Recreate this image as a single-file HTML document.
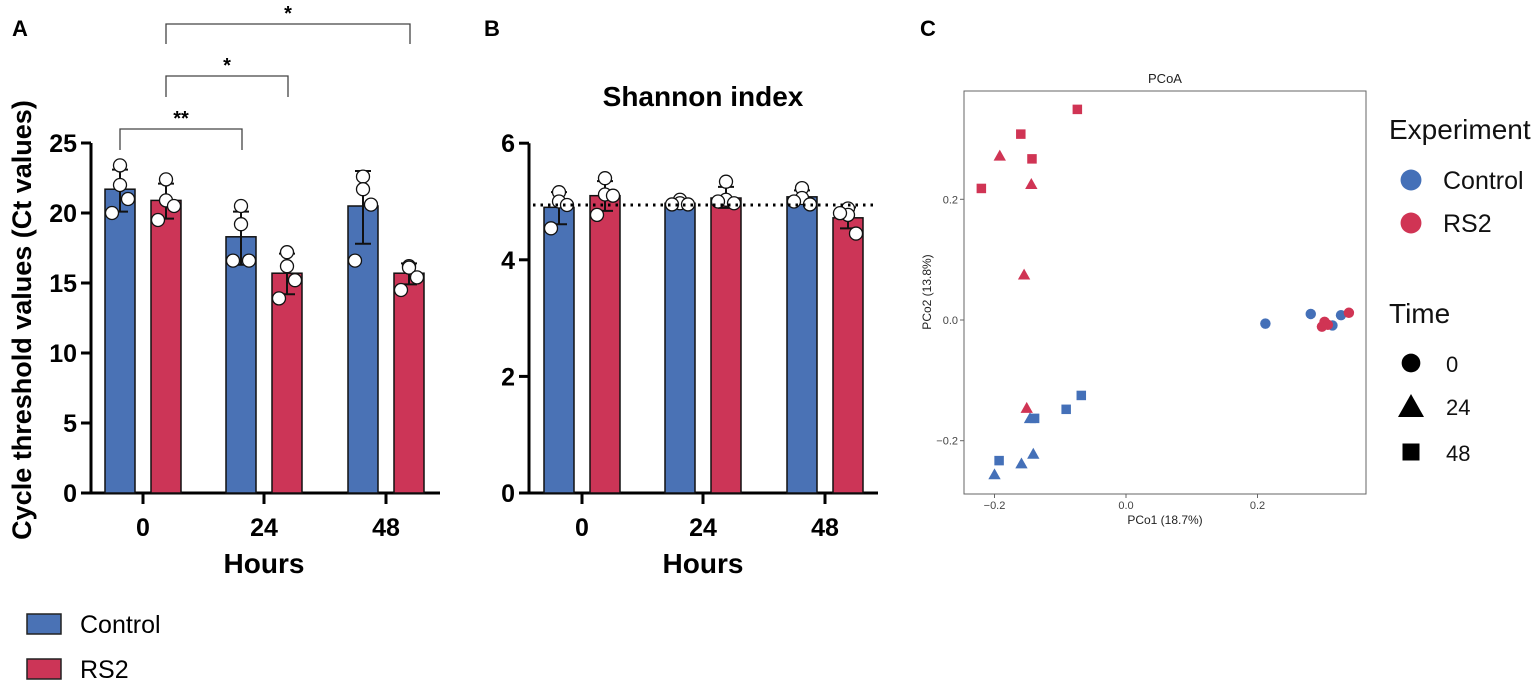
<!DOCTYPE html>
<html><head><meta charset="utf-8"><style>
body{margin:0;background:#fff;}
svg{display:block;font-family:"Liberation Sans",Arial,sans-serif;}
</style></head><body>
<svg id="s" width="1535" height="688" viewBox="0 0 1535 688" xmlns="http://www.w3.org/2000/svg">
<text x="12" y="36" font-size="22" font-weight="bold">A</text>
<text x="484" y="36" font-size="22" font-weight="bold">B</text>
<text x="920" y="36" font-size="22" font-weight="bold">C</text>
<g id="ga"></g><g id="gb"></g><g id="gc"></g>
<g>
<rect x="27" y="614" width="34" height="20" fill="#4a72b5" stroke="#222" stroke-width="1.5"/>
<text x="80" y="633" font-size="25">Control</text>
<rect x="27" y="659" width="34" height="20" fill="#cc3557" stroke="#222" stroke-width="1.5"/>
<text x="80" y="678" font-size="25">RS2</text>
</g>
</svg>
<script>
var NS="http://www.w3.org/2000/svg";
function mk(p,t,a,txt){var e=document.createElementNS(NS,t);for(var k in a)e.setAttribute(k,a[k]);if(txt!==undefined)e.textContent=txt;p.appendChild(e);return e;}
var BLUE="#4a72b5",RED="#cc3557";
var hours=["0","24","48"];
// Panel A data
var aCtrl=[21.7,18.3,20.5];
var aRs2=[20.9,15.7,15.7];
var aCtrlErr=[[20.1,23.1],[16.3,20.1],[17.8,23.0]];
var aRs2Err=[[19.6,22.1],[14.2,17.1],[14.9,16.4]];
var aCtrlPts=[[23.4,22.0,21.0,20.0],[20.5,19.2,16.6,16.6],[22.6,21.7,20.6,16.6]];
var aRs2Pts=[[22.4,20.9,20.5,19.5],[17.2,16.2,15.2,13.9],[16.2,16.1,15.4,14.5]];
var aTicks=[0,5,10,15,20,25];
// Panel B data
var bCtrl=[4.90,4.97,5.08];
var bRs2=[5.10,5.06,4.72];
var bCtrlErr=[[4.61,5.16],[4.94,5.05],[4.97,5.19]];
var bRs2Err=[[4.84,5.35],[4.89,5.25],[4.54,4.90]];
var bCtrlPts=[[5.16,5.0,4.94,4.54],[5.03,4.97,4.95,4.95],[5.23,5.06,4.95,5.0]];
var bRs2Pts=[[5.4,5.12,5.1,4.77],[5.34,5.03,4.97,5.0],[4.88,4.77,4.45,4.8]];
var bTicks=[0,2,4,6];
var bRef=4.94;
// Panel C data
var cCtrlX0=[0.212,0.281,0.314,0.327], cCtrlY0=[-0.006,0.010,-0.009,0.008];
var cRs2X0=[0.339,0.302,0.298,0.307], cRs2Y0=[0.012,-0.003,-0.011,-0.008];
var cCtrlX24=[-0.146,-0.141,-0.159,-0.200], cCtrlY24=[-0.163,-0.222,-0.238,-0.256];
var cRs2X24=[-0.192,-0.144,-0.155,-0.151], cRs2Y24=[0.272,0.225,0.075,-0.146];
var cCtrlX48=[-0.068,-0.091,-0.139,-0.193], cCtrlY48=[-0.125,-0.148,-0.163,-0.233];
var cRs2X48=[-0.074,-0.160,-0.143,-0.220], cRs2Y48=[0.349,0.308,0.267,0.218];
var cXTicks=[-0.2,0.0,0.2], cYTicks=[-0.2,0.0,0.2];

function barPanel(g,o){
  var y=function(v){return o.y0-(v-0)*o.ppu;};
  var jit=[0,0,8,-8];
  var ax=mk(g,'line',{x1:o.ax,y1:o.y0,x2:o.ax,y2:y(o.ticks[o.ticks.length-1]),stroke:'#000','stroke-width':3});
  
  var xa=mk(g,'line',{x1:o.ax-2,y1:o.y0,x2:o.xend,y2:o.y0,stroke:'#000','stroke-width':3});
  
  o.ticks.forEach(function(t){
    var l=mk(g,'line',{x1:o.ax-10,y1:y(t),x2:o.ax,y2:y(t),stroke:'#000','stroke-width':3});
    
    var tx=mk(g,'text',{x:o.ax-14,y:y(t)+9,'font-size':25,'font-weight':'bold','text-anchor':'end'},String(t));
    
  });
  hours.forEach(function(h,i){
    var cx=o.tx[i];
    var l=mk(g,'line',{x1:cx,y1:o.y0,x2:cx,y2:o.y0+11,stroke:'#000','stroke-width':3});
    
    var tx=mk(g,'text',{x:cx,y:o.y0+43,'font-size':25,'font-weight':'bold','text-anchor':'middle'},h);
    
    [[o.ctrl,o.ctrlErr,o.ctrlPts,BLUE,-23,'control'],[o.rs2,o.rs2Err,o.rs2Pts,RED,23,'rs2']].forEach(function(s){
      var bx=cx+s[4];
      var r=mk(g,'rect',{x:bx-15,y:y(s[0][i]),width:30,height:o.y0-y(s[0][i]),fill:s[3],stroke:'#111','stroke-width':1.5});
      
      var e=s[1][i];
      var eg=mk(g,'path',{d:'M'+bx+' '+y(e[0])+'V'+y(e[1])+'M'+(bx-8)+' '+y(e[0])+'H'+(bx+8)+'M'+(bx-8)+' '+y(e[1])+'H'+(bx+8),stroke:'#111','stroke-width':2,fill:'none'});
      
      s[2][i].forEach(function(v,k){
        var c=mk(g,'circle',{cx:bx+jit[k],cy:y(v),r:6.5,fill:'#fff',stroke:'#111','stroke-width':1.3});
        
      });
    });
  });
  var ht=mk(g,'text',{x:o.tx[1],y:o.y0+80,'font-size':28,'font-weight':'bold','text-anchor':'middle'},'Hours');
  
  return y;
}
var ga=document.getElementById('ga');
var ya=barPanel(ga,{ax:91,y0:493,ppu:14,xend:440,tx:[143,264,386],ticks:aTicks,ctrl:aCtrl,rs2:aRs2,ctrlErr:aCtrlErr,rs2Err:aRs2Err,ctrlPts:aCtrlPts,rs2Pts:aRs2Pts});
var yt=mk(ga,'text',{x:0,y:0,'font-size':27,'font-weight':'bold','text-anchor':'middle',transform:'translate(31,320) rotate(-90)'},'Cycle threshold values (Ct values)');

[[120,242,129,150,'**'],[166,288,76,97,'*'],[166,410,24,44,'*']].forEach(function(b){
  var p=mk(ga,'path',{d:'M'+b[0]+' '+b[3]+'V'+b[2]+'H'+b[1]+'V'+b[3],stroke:'#444','stroke-width':1.3,fill:'none'});
  
  var t=mk(ga,'text',{x:(b[0]+b[1])/2,y:b[2]-4,'font-size':20,'font-weight':'bold','text-anchor':'middle'},b[4]);
  
});
var gb=document.getElementById('gb');
var yb=barPanel(gb,{ax:529,y0:493,ppu:58.3,xend:878,tx:[582,703,825],ticks:bTicks,ctrl:bCtrl,rs2:bRs2,ctrlErr:bCtrlErr,rs2Err:bRs2Err,ctrlPts:bCtrlPts,rs2Pts:bRs2Pts});
var rl=mk(gb,'line',{x1:533,y1:yb(bRef),x2:876,y2:yb(bRef),stroke:'#000','stroke-width':3,'stroke-dasharray':'2.5 5'});

var st=mk(gb,'text',{x:703,y:106,'font-size':28,'font-weight':'bold','text-anchor':'middle'},'Shannon index');


// Panel C
var gc=document.getElementById('gc');
var cx=function(v){return 1126+v/0.2*131.5;}, cy=function(v){return 320-v/0.2*120.7;};
var fr=mk(gc,'rect',{x:964,y:91,width:402,height:403,fill:'#fff',stroke:'#666','stroke-width':1});

var ct=mk(gc,'text',{x:1165,y:83,'font-size':13,'text-anchor':'middle',fill:'#222'},'PCoA');

cXTicks.forEach(function(t){
  var l=mk(gc,'line',{x1:cx(t),y1:494,x2:cx(t),y2:498,stroke:'#666'});
  var tx=mk(gc,'text',{x:cx(t),y:509,'font-size':11,'text-anchor':'middle',fill:'#444'},(t<0?'\u2212':'')+Math.abs(t).toFixed(1));
  
});
cYTicks.forEach(function(t){
  var l=mk(gc,'line',{x1:960,y1:cy(t),x2:964,y2:cy(t),stroke:'#666'});
  var tx=mk(gc,'text',{x:958,y:cy(t)+4,'font-size':11,'text-anchor':'end',fill:'#444'},(t<0?'\u2212':'')+Math.abs(t).toFixed(1));
  
});
var xt=mk(gc,'text',{x:1165,y:524,'font-size':12,'text-anchor':'middle',fill:'#222'},'PCo1 (18.7%)');

var yt2=mk(gc,'text',{x:0,y:0,'font-size':12,'text-anchor':'middle',fill:'#222',transform:'translate(931,292) rotate(-90)'},'PCo2 (13.8%)');

var CB="#4470b8",CR="#d03454";
function shape(p,sh,x,y,col,sz){
  if(sh==0)return mk(p,'circle',{cx:x,cy:y,r:sz*0.55,fill:col});
  if(sh==1)return mk(p,'path',{d:'M'+x+' '+(y-sz*0.65)+'L'+(x+sz*0.65)+' '+(y+sz*0.5)+'L'+(x-sz*0.65)+' '+(y+sz*0.5)+'Z',fill:col});
  return mk(p,'rect',{x:x-sz/2,y:y-sz/2,width:sz,height:sz,fill:col});
}
[[cCtrlX24,cCtrlY24,1,CB,'control-24'],[cCtrlX48,cCtrlY48,2,CB,'control-48'],[cRs2X24,cRs2Y24,1,CR,'rs2-24'],[cRs2X48,cRs2Y48,2,CR,'rs2-48'],[cCtrlX0,cCtrlY0,0,CB,'control-0'],[cRs2X0,cRs2Y0,0,CR,'rs2-0']].forEach(function(s){
  s[0].forEach(function(v,i){
    var e=shape(gc,s[2],cx(v),cy(s[1][i]),s[3],9.5);
    
  });
});
var lt=[['Experiment',1389,139,28],['Control',1443,189,25],['RS2',1443,232,25],['Time',1389,323,28],['0',1446,372,22],['24',1446,415,22],['48',1446,461,22]];
lt.forEach(function(t){
  var e=mk(gc,'text',{x:t[1],y:t[2],'font-size':t[3],fill:'#111'},t[0]);
  
});
var l1=shape(gc,0,1411,180,CB,19);
var l2=shape(gc,0,1411,223,CR,19);
var l3=shape(gc,0,1411,363,'#000',17);
var l4=shape(gc,1,1411,407,'#000',20);
var l5=shape(gc,2,1411,452,'#000',17);
</script>
</body></html>
